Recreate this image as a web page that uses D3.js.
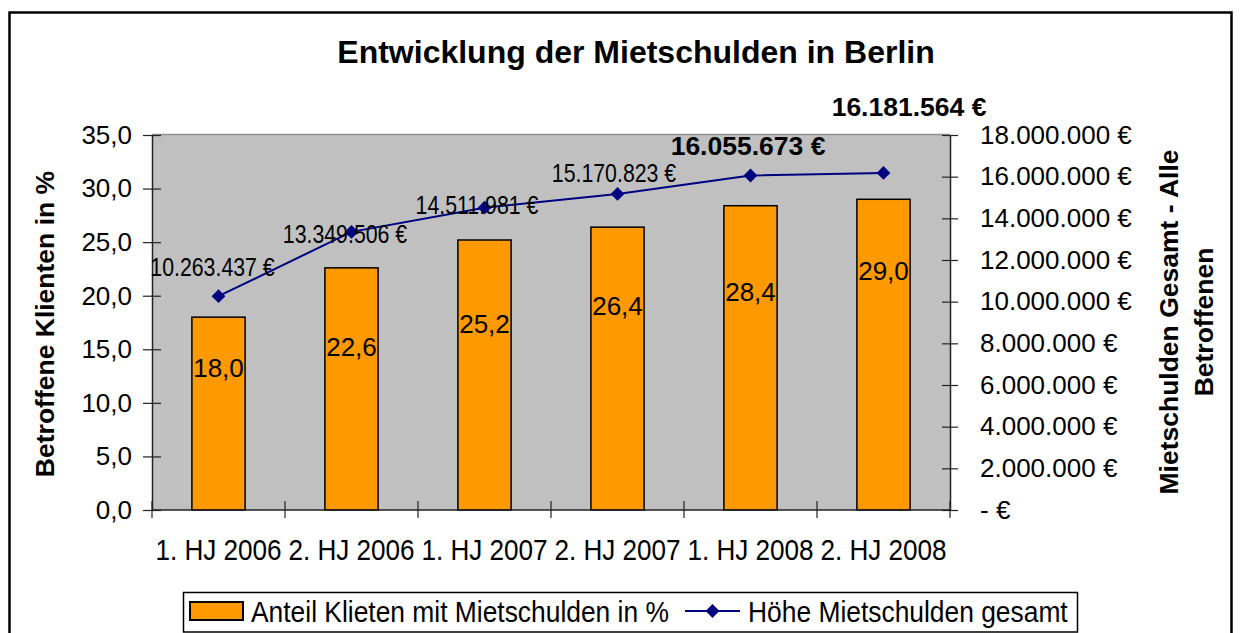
<!DOCTYPE html>
<html>
<head>
<meta charset="utf-8">
<script src="https://cdn.jsdelivr.net/npm/d3@7"></script>
<style>
  html, body { margin: 0; padding: 0; background: #fff; }
  svg { display: block; }
  text { font-family: "Liberation Sans", Arial, sans-serif; fill: #000; }
</style>
</head>
<body>
<svg id="chart" width="1244" height="633"></svg>
<script>
// ---------- data ----------
const categories = ["1. HJ 2006", "2. HJ 2006", "1. HJ 2007", "2. HJ 2007", "1. HJ 2008", "2. HJ 2008"];
const shareValues = [18.0, 22.6, 25.2, 26.4, 28.4, 29.0];
const debtValues = [10263437, 13349506, 14511981, 15170823, 16055673, 16181564];
const debtLabelBold = [false, false, false, false, true, true];
const leftTicks = [0, 5, 10, 15, 20, 25, 30, 35];
const rightTicks = [0, 2000000, 4000000, 6000000, 8000000, 10000000, 12000000, 14000000, 16000000, 18000000];
const titleText = "Entwicklung der Mietschulden in Berlin";
const leftTitle = "Betroffene Klienten in %";
const rightTitleLines = ["Mietschulden Gesamt - Alle", "Betroffenen"];
const seriesNames = ["Anteil Klieten mit Mietschulden in %", "Höhe Mietschulden gesamt"];

// ---------- layout (manual label placement as in the original) ----------
const barLabelDrop = [60, 88, 93, 88, 95, 81];          // px below bar top
const debtLabelShift = [[-6, -20], [-6.5, 11], [-7.5, 6], [-3.5, -12], [-2.5, -20.5], [25.5, -57]];

const plot = { left: 152, right: 950, top: 135, bottom: 510 };
const svg = d3.select("#chart");

const fmtLeft = d => d.toFixed(1).replace(".", ",");
const fmtEuro = d => d === 0 ? "- €" : d3.format(",")(d).replace(/,/g, ".") + " €";

// outer frame
svg.append("rect").attr("x", 9.5).attr("y", 12.5).attr("width", 1222).attr("height", 660)
  .attr("fill", "#fff").attr("stroke", "#000").attr("stroke-width", 2.5);

// scales
const x = d3.scaleBand().domain(categories).range([plot.left, plot.right]).paddingInner(0.6).paddingOuter(0.3);
const xIdx = d3.scaleLinear().domain([0, categories.length]).range([plot.left, plot.right]);
const yL = d3.scaleLinear().domain([0, 35]).range([plot.bottom, plot.top]);
const yR = d3.scaleLinear().domain([0, 18000000]).range([plot.bottom, plot.top]);
const cx = c => x(c) + x.bandwidth() / 2;

// plot area
svg.append("rect").attr("x", plot.left).attr("y", plot.top).attr("width", plot.right - plot.left)
  .attr("height", plot.bottom - plot.top).attr("fill", "#C0C0C0");
svg.append("line").attr("x1", plot.left).attr("x2", plot.right).attr("y1", plot.top - 0.5).attr("y2", plot.top - 0.5)
  .attr("stroke", "#909090").attr("stroke-width", 1.5);

// title
svg.append("text").attr("x", 636).attr("y", 63).attr("text-anchor", "middle")
  .attr("font-size", 32).attr("font-weight", "bold").text(titleText);

// bars
svg.append("g").selectAll("rect").data(shareValues).join("rect")
  .attr("x", (d, i) => x(categories[i]))
  .attr("y", d => yL(d))
  .attr("width", x.bandwidth())
  .attr("height", d => yL(0) - yL(d))
  .attr("fill", "#FF9900").attr("stroke", "#000").attr("stroke-width", 1.5);

// bar labels
svg.append("g").selectAll("text").data(shareValues).join("text")
  .attr("x", (d, i) => cx(categories[i]))
  .attr("y", (d, i) => yL(d) + barLabelDrop[i])
  .attr("text-anchor", "middle").attr("font-size", 26)
  .text(d => fmtLeft(d));

// left axis
const gL = svg.append("g").attr("transform", `translate(${plot.left},0)`)
  .call(d3.axisLeft(yL).tickValues(leftTicks).tickFormat(fmtLeft).tickSize(9).tickSizeOuter(0).tickPadding(11));
gL.select(".domain").attr("stroke", "#222").attr("stroke-width", 1.5);
gL.selectAll(".tick line").attr("x1", 9).attr("x2", -9).attr("stroke", "#222").attr("stroke-width", 1.2);
gL.selectAll(".tick text").attr("font-size", 26).attr("font-family", "Liberation Sans, Arial, sans-serif").attr("fill", "#000");

// right axis
const gR = svg.append("g").attr("transform", `translate(${plot.right},0)`)
  .call(d3.axisRight(yR).tickValues(rightTicks).tickFormat(fmtEuro).tickSize(8).tickSizeOuter(0).tickPadding(22));
gR.select(".domain").attr("stroke", "#222").attr("stroke-width", 1.5);
gR.selectAll(".tick line").attr("x1", -8).attr("x2", 8).attr("stroke", "#222").attr("stroke-width", 1.2);
gR.selectAll(".tick text").attr("font-size", 26).attr("font-family", "Liberation Sans, Arial, sans-serif").attr("fill", "#000");

// x axis
const gX = svg.append("g");
gX.append("line").attr("x1", plot.left).attr("x2", plot.right).attr("y1", plot.bottom).attr("y2", plot.bottom)
  .attr("stroke", "#222").attr("stroke-width", 1.5);
gX.selectAll("line.t").data(d3.range(categories.length + 1)).join("line").attr("class", "t")
  .attr("x1", d => xIdx(d)).attr("x2", d => xIdx(d)).attr("y1", plot.bottom - 9).attr("y2", plot.bottom + 8)
  .attr("stroke", "#222").attr("stroke-width", 1.2);
gX.selectAll("g.lbl").data(categories).join("g").attr("class", "lbl")
  .attr("transform", d => `translate(${cx(d)},560) scale(0.87,1)`)
  .append("text").attr("text-anchor", "middle").attr("font-size", 30).text(d => d);

// line series
const line = d3.line().x((d, i) => cx(categories[i])).y(d => yR(d));
svg.append("path").datum(debtValues).attr("d", line).attr("fill", "none")
  .attr("stroke", "#000080").attr("stroke-width", 2);
const diamond = d3.symbol(d3.symbolSquare, 95);
svg.append("g").selectAll("path").data(debtValues).join("path")
  .attr("d", diamond)
  .attr("transform", (d, i) => `translate(${cx(categories[i])},${yR(d)}) rotate(45)`)
  .attr("fill", "#000080");

// line labels
svg.append("g").selectAll("g").data(debtValues).join("g")
  .attr("transform", (d, i) => {
    const s = debtLabelShift[i];
    const sc = debtLabelBold[i] ? 1 : 0.82;
    return `translate(${cx(categories[i]) + s[0]},${yR(d) + s[1]}) scale(${sc},1)`;
  })
  .append("text").attr("text-anchor", "middle").attr("font-size", (d, i) => debtLabelBold[i] ? 26.5 : 26)
  .attr("font-weight", (d, i) => debtLabelBold[i] ? "bold" : "normal")
  .text(d => fmtEuro(d));

// axis titles
svg.append("text").attr("transform", "translate(54,324) rotate(-90)").attr("text-anchor", "middle")
  .attr("font-size", 26.5).attr("font-weight", "bold").text(leftTitle);
svg.append("g").selectAll("text").data(rightTitleLines).join("text")
  .attr("transform", (d, i) => `translate(${1178 + i * 35},322) rotate(-90)`)
  .attr("text-anchor", "middle").attr("font-size", 26.5).attr("font-weight", "bold").text(d => d);

// legend
const lg = svg.append("g");
lg.append("rect").attr("x", 183.5).attr("y", 592.5).attr("width", 894).attr("height", 39.5)
  .attr("fill", "#fff").attr("stroke", "#000").attr("stroke-width", 1.5);
lg.append("rect").attr("x", 190).attr("y", 602).attr("width", 53).attr("height", 18)
  .attr("fill", "#FF9900").attr("stroke", "#000").attr("stroke-width", 2);
lg.append("g").attr("transform", "translate(251,622) scale(0.91,1)")
  .append("text").attr("font-size", 29).text(seriesNames[0]);
lg.append("line").attr("x1", 685).attr("x2", 740).attr("y1", 611).attr("y2", 611)
  .attr("stroke", "#000080").attr("stroke-width", 2);
lg.append("path").attr("d", diamond).attr("transform", "translate(712.5,611) rotate(45)").attr("fill", "#000080");
lg.append("g").attr("transform", "translate(748,622) scale(0.91,1)")
  .append("text").attr("font-size", 29).text(seriesNames[1]);
</script>
</body>
</html>
